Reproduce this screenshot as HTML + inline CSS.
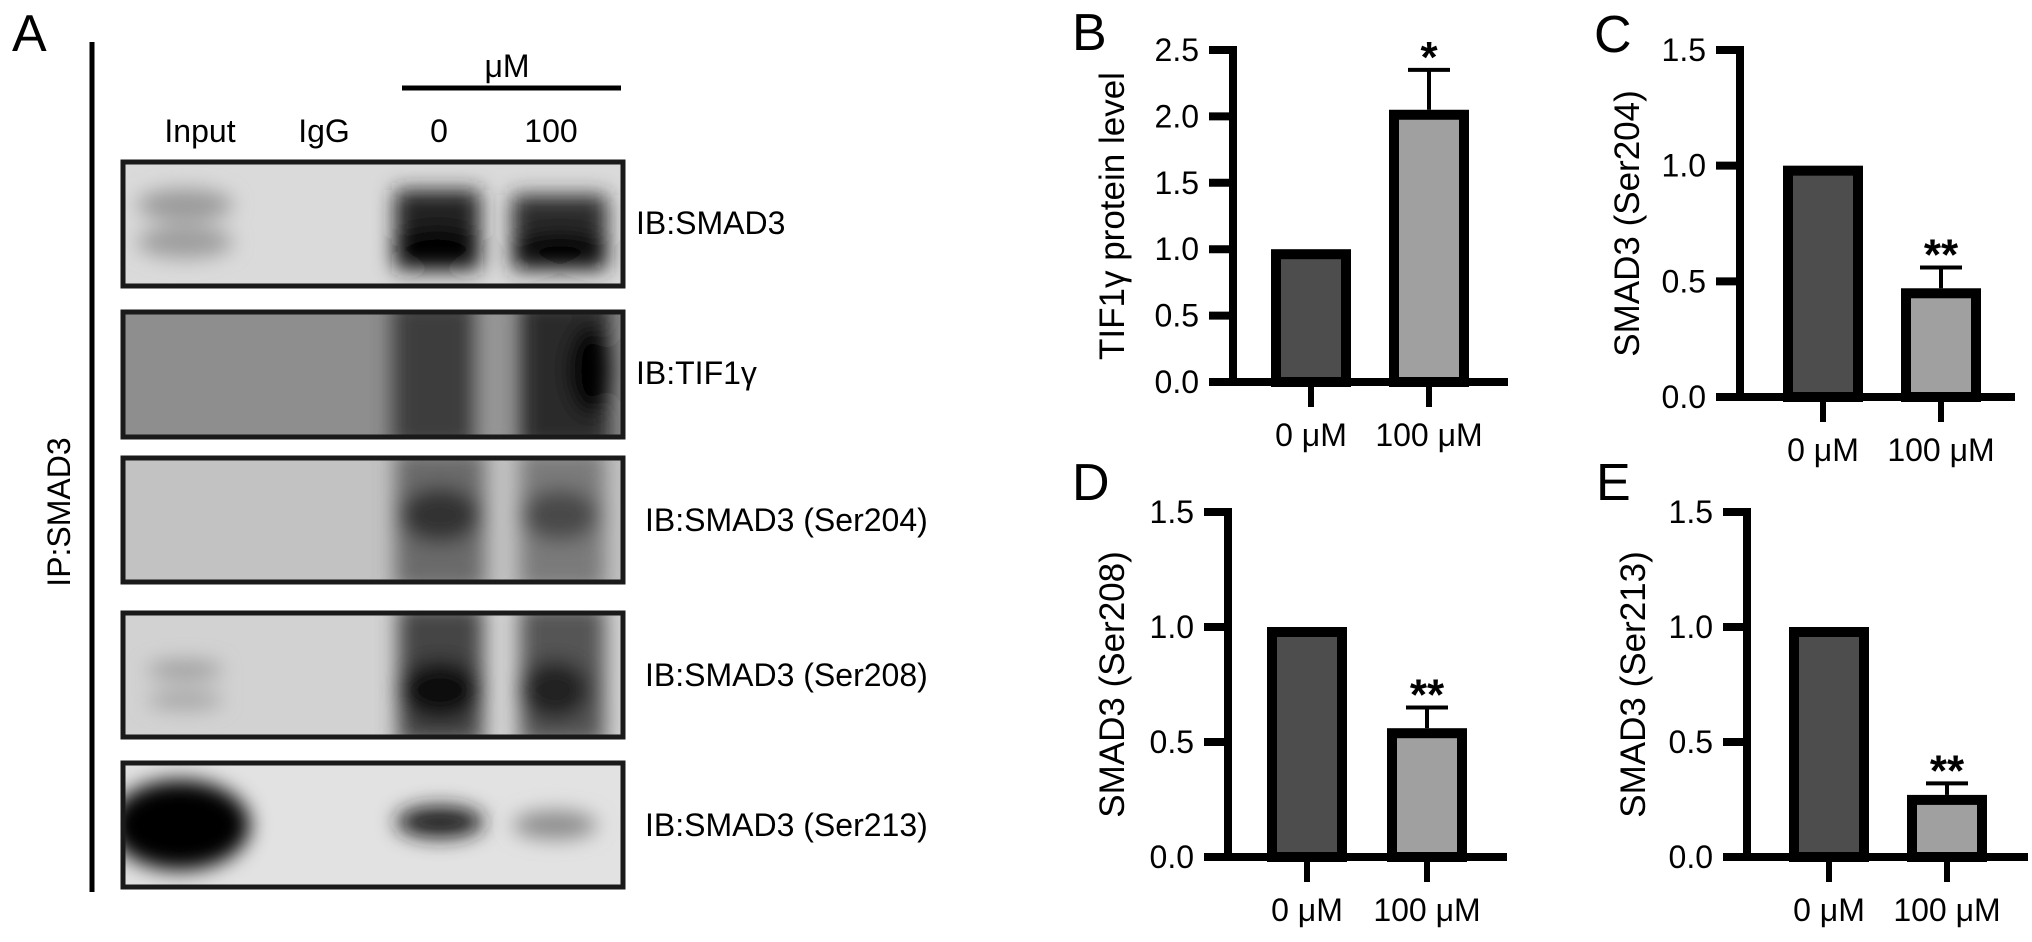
<!DOCTYPE html>
<html><head><meta charset="utf-8"><style>
html,body{margin:0;padding:0;background:#fff;}
svg{display:block;font-family:"Liberation Sans",sans-serif;}
</style></head><body>
<svg id="fig" width="2032" height="942" viewBox="0 0 2032 942" xmlns="http://www.w3.org/2000/svg">
<defs>
<filter id="b8" x="-50%" y="-50%" width="200%" height="200%"><feGaussianBlur stdDeviation="10"/></filter>
<clipPath id="c1"><rect x="123" y="162" width="500" height="124"/></clipPath>
<clipPath id="c2"><rect x="123" y="312" width="500" height="125"/></clipPath>
<clipPath id="c3"><rect x="123" y="458" width="500" height="124"/></clipPath>
<clipPath id="c4"><rect x="123" y="613" width="500" height="124"/></clipPath>
<clipPath id="c5"><rect x="123" y="763" width="500" height="124"/></clipPath>
</defs>

<g>
<text x="12" y="51" font-size="52">A</text>
<line x1="92" y1="42" x2="92" y2="892" stroke="#000" stroke-width="5"/>
<text transform="translate(70,512) rotate(-90)" text-anchor="middle" font-size="32">IP:SMAD3</text>
<text x="507" y="77" text-anchor="middle" font-size="32">μM</text>
<line x1="402" y1="88" x2="621" y2="88" stroke="#000" stroke-width="5"/>
<text x="200" y="142" text-anchor="middle" font-size="32">Input</text>
<text x="324" y="142" text-anchor="middle" font-size="32">IgG</text>
<text x="439" y="142" text-anchor="middle" font-size="32">0</text>
<text x="551" y="142" text-anchor="middle" font-size="32">100</text>

<g>
<g clip-path="url(#c1)">
<rect x="123" y="162" width="500" height="124" fill="#dadada"/>
<g filter="url(#b8)">
<ellipse cx="185" cy="205" rx="48" ry="16" fill="#999"/><ellipse cx="185" cy="242" rx="48" ry="16" fill="#9c9c9c"/>
<rect x="395" y="190" width="85" height="80" fill="#222"/><ellipse cx="437" cy="248" rx="44" ry="20" fill="#000"/>
<rect x="512" y="195" width="95" height="75" fill="#2a2a2a"/><ellipse cx="560" cy="250" rx="48" ry="18" fill="#050505"/>
</g></g>
<rect x="123" y="162" width="500" height="124" fill="none" stroke="#1a1a1a" stroke-width="5"/>
</g>
<text x="636" y="234" font-size="32">IB:SMAD3</text>

<g>
<g clip-path="url(#c2)">
<rect x="123" y="312" width="500" height="125" fill="#8e8e8e"/>
<g filter="url(#b8)">
<rect x="392" y="300" width="85" height="150" fill="#3c3c3c"/>
<rect x="520" y="300" width="90" height="150" fill="#2a2a2a"/>
<ellipse cx="590" cy="370" rx="22" ry="45" fill="#000"/>
<rect x="480" y="300" width="22" height="150" fill="#9a9a9a"/>
</g></g>
<rect x="123" y="312" width="500" height="125" fill="none" stroke="#1a1a1a" stroke-width="5"/>
</g>
<text x="636" y="384" font-size="32">IB:TIF1γ</text>

<g>
<g clip-path="url(#c3)">
<rect x="123" y="458" width="500" height="124" fill="#c2c2c2"/>
<g filter="url(#b8)">
<rect x="395" y="450" width="90" height="140" fill="#6a6a6a"/>
<ellipse cx="440" cy="515" rx="40" ry="28" fill="#333"/>
<rect x="520" y="450" width="85" height="140" fill="#7a7a7a"/>
<ellipse cx="560" cy="515" rx="38" ry="26" fill="#4a4a4a"/>
</g></g>
<rect x="123" y="458" width="500" height="124" fill="none" stroke="#1a1a1a" stroke-width="5"/>
</g>
<text x="645" y="531" font-size="32">IB:SMAD3 (Ser204)</text>

<g>
<g clip-path="url(#c4)">
<rect x="123" y="613" width="500" height="124" fill="#d2d2d2"/>
<g filter="url(#b8)">
<ellipse cx="185" cy="670" rx="38" ry="9" fill="#9a9a9a"/><ellipse cx="185" cy="700" rx="38" ry="9" fill="#a2a2a2"/>
<rect x="398" y="605" width="85" height="140" fill="#444"/>
<ellipse cx="440" cy="690" rx="40" ry="30" fill="#111"/>
<rect x="520" y="605" width="85" height="140" fill="#555"/>
<ellipse cx="555" cy="690" rx="35" ry="30" fill="#222"/>
</g></g>
<rect x="123" y="613" width="500" height="124" fill="none" stroke="#1a1a1a" stroke-width="5"/>
</g>
<text x="645" y="686" font-size="32">IB:SMAD3 (Ser208)</text>

<g>
<g clip-path="url(#c5)">
<rect x="123" y="763" width="500" height="124" fill="#e2e2e2"/>
<g filter="url(#b8)">
<ellipse cx="180" cy="825" rx="70" ry="45" fill="#000"/>
<ellipse cx="440" cy="822" rx="44" ry="16" fill="#1c1c1c"/>
<ellipse cx="555" cy="825" rx="42" ry="14" fill="#8a8a8a"/>
</g></g>
<rect x="123" y="763" width="500" height="124" fill="none" stroke="#1a1a1a" stroke-width="5"/>
</g>
<text x="645" y="836" font-size="32">IB:SMAD3 (Ser213)</text>
</g>

<g id="charts"></g>
</svg>

<script>
const categories = ["0 μM", "100 μM"];
const valuesB = [1.0, 2.05];
const errorsB = [0, 0.30];
const valuesC = [1.0, 0.47];
const errorsC = [0, 0.09];
const valuesD = [1.0, 0.56];
const errorsD = [0, 0.09];
const valuesE = [1.0, 0.27];
const errorsE = [0, 0.05];
const ticksB = ["0.0", "0.5", "1.0", "1.5", "2.0", "2.5"];
const ticksCDE = ["0.0", "0.5", "1.0", "1.5"];
const signifB = ["", "*"];
const signifCDE = ["", "**"];

const NS = "http://www.w3.org/2000/svg";
const root = document.getElementById("charts");
function mk(tag, attrs, parent) {
  const e = document.createElementNS(NS, tag);
  for (const k in attrs) e.setAttribute(k, attrs[k]);
  parent.appendChild(e);
  return e;
}

function drawChart(cfg) {
  const g = mk("g", {}, root);
  
  
  const ymax = parseFloat(cfg.ticks[cfg.ticks.length - 1]);
  const yScale = v => cfg.yBot - (v / ymax) * (cfg.yBot - cfg.yTop);
  const xScale = i => cfg.c0 + i * cfg.step;

  const letter = mk("text", {x: cfg.lx, y: cfg.ly, "font-size": 52}, g);
  letter.textContent = cfg.id.toUpperCase();
  
  

  const title = mk("text", {transform: "translate(" + cfg.tx + "," + ((cfg.yTop + cfg.yBot) / 2) + ") rotate(-90)", "text-anchor": "middle", "font-size": 35}, g);
  title.textContent = cfg.title;
  
  

  cfg.ticks.forEach(t => {
    const y = yScale(parseFloat(t));
    const tk = mk("line", {x1: cfg.ax - 24, x2: cfg.ax, y1: y, y2: y, stroke: "#000", "stroke-width": 8}, g);
    
    
    const tl = mk("text", {x: cfg.ax - 34, y: y + 11, "text-anchor": "end", "font-size": 32}, g);
    tl.textContent = t;
    
    
  });

  cfg.values.forEach((v, i) => {
    const cx = xScale(i);
    const top = yScale(v);
    const bar = mk("rect", {x: cx - 35, y: top + 5, width: 70, height: Math.max(0, cfg.yBot - top - 5), fill: i === 0 ? "#4d4d4d" : "#a0a0a0", stroke: "#000", "stroke-width": 10}, g);
    
    
    const e = cfg.errors[i];
    if (e > 0) {
      const et = yScale(v + e);
      const el = mk("line", {x1: cx, x2: cx, y1: top, y2: et, stroke: "#000", "stroke-width": 4}, g);
      
      
      const cap = mk("line", {x1: cx - 21, x2: cx + 21, y1: et, y2: et, stroke: "#000", "stroke-width": 4}, g);
      
      
    }
    if (cfg.signif[i]) {
      const st = mk("text", {x: cx, y: yScale(v + e) + 2, "text-anchor": "middle", "font-size": 44, "font-weight": "bold"}, g);
      st.textContent = cfg.signif[i];
      
      
    }
    const xt = mk("line", {x1: cx, x2: cx, y1: cfg.yBot, y2: cfg.yBot + 25, stroke: "#000", "stroke-width": 6}, g);
    
    
    const xl = mk("text", {x: cx, y: cfg.yBot + 64, "text-anchor": "middle", "font-size": 32}, g);
    xl.textContent = categories[i];
    
    
  });

  const ya = mk("line", {x1: cfg.ax, x2: cfg.ax, y1: cfg.yTop - 4, y2: cfg.yBot, stroke: "#000", "stroke-width": 8}, g);
  
  
  const xa = mk("line", {x1: cfg.x0, x2: cfg.x1, y1: cfg.yBot, y2: cfg.yBot, stroke: "#000", "stroke-width": 8}, g);
  
  
}

drawChart({id: "b", title: "TIF1γ protein level", values: valuesB, errors: errorsB, ticks: ticksB, signif: signifB,
  ax: 1233, x0: 1210, x1: 1508, c0: 1311, step: 118, yTop: 50, yBot: 382, lx: 1072, ly: 50, tx: 1124});
drawChart({id: "c", title: "SMAD3 (Ser204)", values: valuesC, errors: errorsC, ticks: ticksCDE, signif: signifCDE,
  ax: 1740, x0: 1717, x1: 2015, c0: 1823, step: 118, yTop: 50, yBot: 397, lx: 1594, ly: 52, tx: 1639});
drawChart({id: "d", title: "SMAD3 (Ser208)", values: valuesD, errors: errorsD, ticks: ticksCDE, signif: signifCDE,
  ax: 1228, x0: 1205, x1: 1507, c0: 1307, step: 120, yTop: 512, yBot: 857, lx: 1072, ly: 500, tx: 1124});
drawChart({id: "e", title: "SMAD3 (Ser213)", values: valuesE, errors: errorsE, ticks: ticksCDE, signif: signifCDE,
  ax: 1747, x0: 1725, x1: 2028, c0: 1829, step: 118, yTop: 512, yBot: 857, lx: 1596, ly: 500, tx: 1645});
</script>
</body></html>
